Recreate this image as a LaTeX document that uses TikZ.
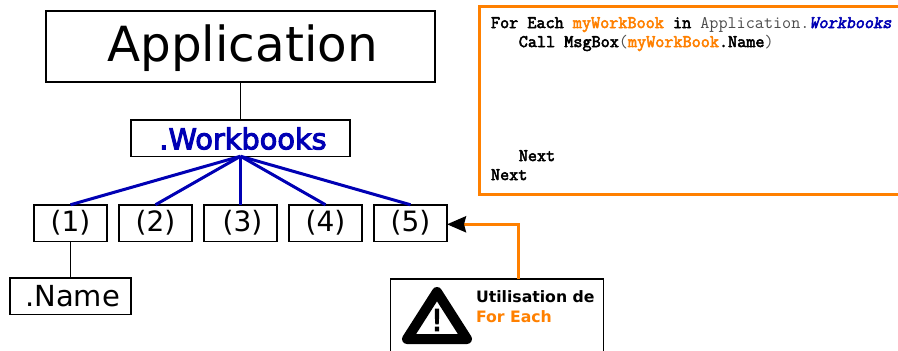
\documentclass[tikz,border=0pt]{standalone}
\usepackage{fontspec}
\usepackage{xcolor}
\setmainfont{DejaVu Sans}
\newfontfamily\heavyfont[FakeBold=3.5]{DejaVu Sans}
\newfontfamily\codefont[FakeBold=3]{Latin Modern Mono}
\newfontfamily\codeitalic[FakeBold=3,FakeSlant=0.2]{Latin Modern Mono}
\usetikzlibrary{arrows.meta}
\definecolor{vbaorange}{HTML}{FF8000}
\definecolor{vbablue}{HTML}{0000B4}
\newcommand{\px}[1]{\fontsize{#1}{#1}\selectfont}
\newcommand{\codeindent}{\hspace*{27.8pt}}
\newcommand{\kw}[1]{{\codefont #1}}
\newcommand{\var}[1]{{\codefont\color{vbaorange}#1}}
\newcommand{\plaintext}[1]{\textcolor{black!70}{#1}}

\begin{document}
\begin{tikzpicture}[x=1pt,y=-1pt,
    every node/.style = {shape=rectangle, inner sep=0pt, outer sep=0pt},
    objbox/.style = {draw, line width=1.5pt, align=center},
    itembox/.style = {objbox, minimum width=73pt, minimum height=36.5pt, font=\px{28}, text height=20pt, text depth=2.6pt},
    thinlink/.style = {line width=0.8pt},
    bluelink/.style = {vbablue, line width=3pt},
    orangelink/.style = {vbaorange, line width=3pt, -{Stealth[black,inset=2pt,length=19pt,width=16pt]}}]
    \useasboundingbox (0,0) rectangle (898,351);

    \node[objbox, minimum width=389pt, minimum height=71pt, font=\px{48.4}, text height=36pt, text depth=6pt] (application) at (240.5,46.5) {\hspace*{4pt}Application};
    \node[objbox, minimum width=219pt, minimum height=36.5pt, font=\px{28.8}, text=vbablue, text height=24pt, text depth=1.4pt] (workbooks) at (240.5,138) {\hspace*{5pt}\heavyfont .Workbooks};
    \foreach \i/\x/\dx in {1/70.5/0pt,2/155.5/0pt,3/240.5/4pt,4/325.5/0pt,5/410.5/0pt}
        \node[itembox] (item\i) at (\x,223) {\hspace*{\dx}(\i)};
    \node[objbox, minimum width=121pt, minimum height=36.5pt, font=\px{29}, text height=24pt, text depth=2.6pt] (name) at (70.5,296) {\hspace*{4pt}.Name};

    % boxes running off the page
    \node[objbox, line width=3pt, draw=vbaorange, anchor=north west, minimum width=440pt, minimum height=188pt] (codebox) at (479,6) {};
    \node[anchor=north west, align=left, font=\ttfamily\fontsize{17.67}{19}\selectfont] (code) at (491,17) {%
        \kw{For Each} \var{myWorkBook} \kw{in} \plaintext{Application.}{\codeitalic\color{vbablue}Workbooks}\\
        \codeindent\kw{Call MsgBox}\plaintext{(}\var{myWorkBook}\kw{.Name}\plaintext{)}\\
        \mbox{}\\ \mbox{}\\ \mbox{}\\ \mbox{}\\ \mbox{}\\
        \codeindent\kw{Next}\\
        \kw{Next}};

    \node[objbox, anchor=north west, minimum width=213pt, minimum height=90pt] (warnbox) at (390.5,279) {};
    \node[anchor=north west, align=left, font=\bfseries\fontsize{15.7}{19.5}\selectfont] (warntext) at (476,291) {Utilisation de\\\textcolor{vbaorange}{For Each}};
    \draw[line width=10pt, line join=round] (437,292) -- (467,339) -- (407,339) -- cycle;
    \node[font=\heavyfont\px{30}] (warnmark) at (437,320) {!};

    \draw[thinlink] (application.south) -- (workbooks.north);
    \foreach \i in {1,...,5}
        \draw[bluelink] (workbooks.south) -- (item\i.north);
    \draw[thinlink] (item1.south) -- (name.north);
    \coordinate (warnstart) at (518,279);
    \draw[orangelink] (warnstart) |- ([yshift=-1.3pt]item5.east);
\end{tikzpicture}
\end{document}
